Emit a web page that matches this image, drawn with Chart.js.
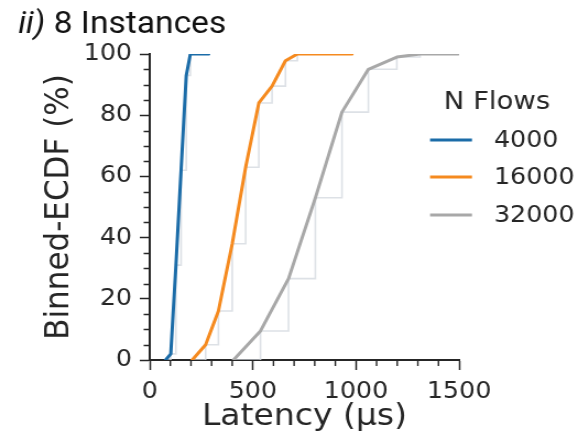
<!DOCTYPE html>
<html>
<head>
<meta charset="utf-8">
<script src="https://cdn.jsdelivr.net/npm/chart.js@4"></script>
<style>
  html, body { margin: 0; padding: 0; background: #ffffff; overflow: hidden; }
  #wrap { width: 525px; height: 444px; transform: scaleX(1.10095); transform-origin: 0 0; }
  #c { display: block; }
</style>
</head>
<body>
<div id="wrap"><canvas id="c" width="525" height="444"></canvas></div>
<script>
// ---- data ----
const seriesNames = ['4000', '16000', '32000'];
const legendTitle = 'N Flows';
const xTickLabels = [0, 500, 1000, 1500];
const yTickLabels = [0, 20, 40, 60, 80, 100];

const lat4000  = [77, 102, 127, 152, 177, 197, 286];
const cdf4000  = [0, 2, 31, 62, 93, 100, 100];

const lat16000 = [206, 271, 333, 400, 465, 529, 593, 658, 716, 981];
const cdf16000 = [0, 5, 16, 38, 63, 84, 89.5, 97.8, 100, 100];

const lat32000 = [406, 537, 673, 803, 932, 1060, 1198, 1311, 1495];
const cdf32000 = [0, 9.5, 26.6, 53, 81, 95, 99, 100, 100];

// ---- styling ----
const colors = ['#1b6ca8', '#f58a1f', '#a8a8a8'];
const stepColor = 'rgba(215,220,226,0.85)';
const textColor = '#262626';
const tickFont = { family: 'DejaVu Sans', size: 23 };

function pts(xs, ys) { return xs.map((x, i) => ({ x: x, y: ys[i] })); }
const all = [[lat4000, cdf4000], [lat16000, cdf16000], [lat32000, cdf32000]];

const datasets = [];
all.forEach((d, i) => {
  datasets.push({
    label: seriesNames[i] + ' bins', data: pts(d[0], d[1]),
    borderColor: stepColor, borderWidth: 1.6, stepped: 'before',
    pointRadius: 0, fill: false, order: 10
  });
});
all.forEach((d, i) => {
  datasets.push({
    label: seriesNames[i], data: pts(d[0], d[1]),
    borderColor: colors[i], borderWidth: 3, tension: 0,
    pointRadius: 0, fill: false, order: 1,
    borderCapStyle: 'round', borderJoinStyle: 'round'
  });
});

const decor = {
  id: 'decor',
  afterDraw(chart) {
    const ctx = chart.ctx;
    const xs = chart.scales.x, ys = chart.scales.y;
    ctx.save();
    // minor ticks
    ctx.strokeStyle = textColor; ctx.lineWidth = 1.4;
    ctx.beginPath();
    for (let v = 0; v <= 1500; v += 100) {
      if (v % 500 === 0) continue;
      const px = xs.getPixelForValue(v);
      ctx.moveTo(px, ys.bottom); ctx.lineTo(px, ys.bottom + 6);
    }
    for (let v = 0; v <= 100; v += 5) {
      if (v % 20 === 0) continue;
      const py = Math.round(ys.getPixelForValue(v)) + 0.5;
      ctx.moveTo(xs.left, py); ctx.lineTo(xs.left - 5.5, py);
    }
    ctx.stroke();

    // title
    ctx.fillStyle = '#111111';
    ctx.textBaseline = 'alphabetic';
    ctx.textAlign = 'left';
    ctx.font = 'italic 30.5px Roboto';
    const a = 'ii)';
    ctx.fillText(a, 16.4, 32.5);
    const w = ctx.measureText(a).width;
    ctx.font = '30.5px Roboto';
    ctx.fillText(' 8 Instances', 16.4 + w, 32.5);

    // legend
    ctx.fillStyle = textColor;
    ctx.textBaseline = 'middle';
    ctx.textAlign = 'center';
    ctx.font = '25px "DejaVu Sans"';
    ctx.fillText(legendTitle, 451.4, 102);
    ctx.textAlign = 'left';
    ctx.font = '23px "DejaVu Sans"';
    const rows = [140, 177, 215];
    seriesNames.forEach((n, i) => {
      ctx.strokeStyle = colors[i]; ctx.lineWidth = 3;
      ctx.beginPath(); ctx.moveTo(390.6, rows[i]); ctx.lineTo(428.7, rows[i]); ctx.stroke();
      ctx.fillText(n, 448.7, rows[i] + 1);
    });
    ctx.restore();
  }
};

new Chart(document.getElementById('c'), {
  type: 'line',
  data: { datasets: datasets },
  options: {
    responsive: false,
    animation: false,
    devicePixelRatio: 1,
    layout: { padding: { top: 54, right: 108, left: 0, bottom: 0 } },
    plugins: { legend: { display: false }, tooltip: { enabled: false }, title: { display: false } },
    scales: {
      x: {
        type: 'linear', min: 0, max: 1500,
        afterFit(s) { s.height = 84; },
        afterBuildTicks(s) { s.ticks = xTickLabels.map(v => ({ value: v })); },
        ticks: { font: tickFont, color: textColor, padding: 8, maxRotation: 0, callback: v => String(v) },
        grid: { drawOnChartArea: false, drawTicks: true, tickLength: 10, tickWidth: 1.5, tickColor: textColor },
        border: { display: true, color: textColor, width: 2 },
        title: { display: true, text: 'Latency (µs)', font: { family: 'DejaVu Sans', size: 30 }, color: textColor, padding: { top: 0, bottom: 9 } }
      },
      y: {
        type: 'linear', min: 0, max: 100,
        afterFit(s) { s.width = 136; },
        afterBuildTicks(s) { s.ticks = yTickLabels.map(v => ({ value: v })); },
        ticks: { font: tickFont, color: textColor, padding: 7, callback: v => String(v) },
        grid: { drawOnChartArea: false, drawTicks: true, tickLength: 9, tickWidth: 1.5, tickColor: textColor },
        border: { display: true, color: textColor, width: 2 },
        title: { display: true, text: 'Binned-ECDF (%)', font: { family: 'DejaVu Sans', size: 31 }, color: textColor, padding: { top: 35, bottom: 0 } }
      }
    }
  },
  plugins: [decor]
});
</script>
</body>
</html>
